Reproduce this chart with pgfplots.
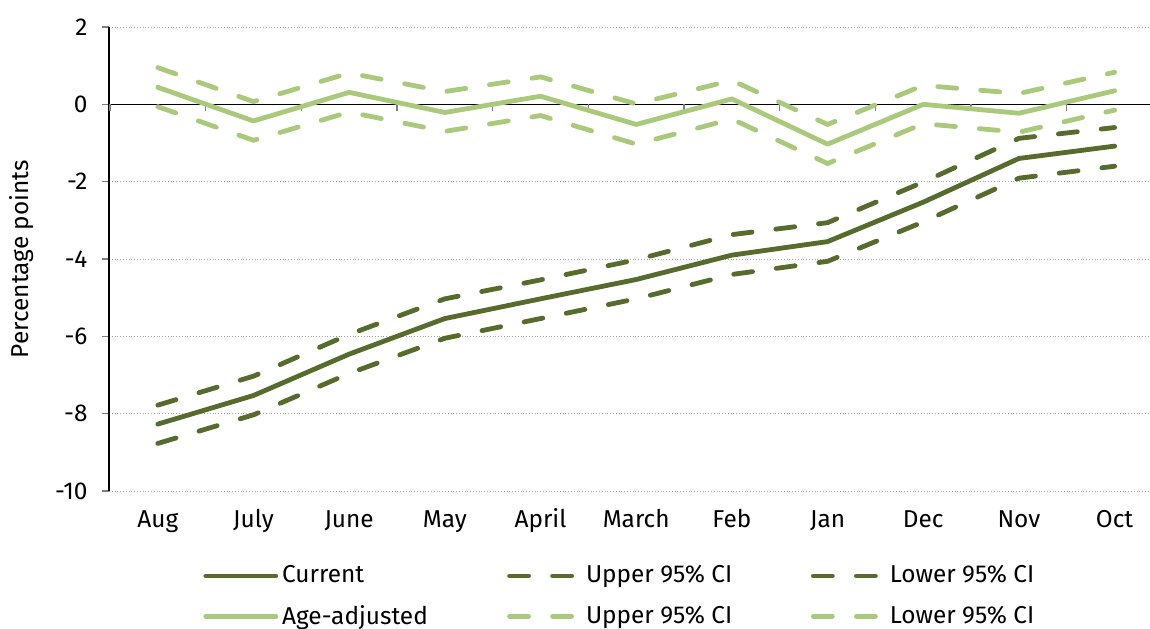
\documentclass[border=0pt]{standalone}
\usepackage{pgfplots}
\pgfplotsset{compat=1.18}
\usepackage{fontspec}
\setmainfont{Fira Sans}
\definecolor{darkg}{RGB}{87,107,44}
\definecolor{lightg}{RGB}{170,201,122}
\pgfplotstableread{
x cur cup clo age aup alo
0 -8.27 -7.78 -8.77 0.44 0.95 -0.06
1 -7.53 -7.03 -8.03 -0.43 0.07 -0.93
2 -6.46 -5.95 -6.96 0.31 0.81 -0.20
3 -5.54 -5.03 -6.05 -0.21 0.33 -0.70
4 -5.03 -4.54 -5.54 0.21 0.71 -0.29
5 -4.53 -4.02 -5.03 -0.52 0.01 -1.03
6 -3.90 -3.37 -4.40 0.14 0.62 -0.38
7 -3.55 -3.06 -4.06 -1.03 -0.52 -1.53
8 -2.53 -2.01 -3.04 0.00 0.49 -0.50
9 -1.40 -0.88 -1.91 -0.23 0.28 -0.72
10 -1.08 -0.60 -1.60 0.35 0.83 -0.15
}\data
\newcommand{\fs}{\fontsize{12.2}{14.6}\selectfont}
\begin{document}
\fs
\begin{tikzpicture}
\begin{axis}[
  name=ax,
  scale only axis,
  width=520.5pt, height=232pt,
  xmin=-0.51, xmax=10.37,
  ymin=-10, ymax=2,
  ytick={-10,-8,...,2},
  xtick={0,...,10},
  xticklabels={Aug,July,June,May,April,March,Feb,Jan,Dec,Nov,Oct},
  axis x line*=bottom,
  axis y line*=left,
  x axis line style={draw=none},
  xtick style={draw=none},
  y axis line style={black, line width=0.6pt},
  ytick style={gray, line width=0.6pt},
  tick align=outside,
  major tick length=3.5pt,
  ymajorgrids,
  grid style={densely dotted, gray!70, line width=0.5pt},
  /pgf/number format/assume math mode=true,
  tick label style={font=\fs},
  yticklabel style={xshift=-3pt},
  xticklabel style={anchor=base, yshift=-14.8pt},
  ylabel={Percentage points},
  ylabel style={font=\fs},
  every axis y label/.style={at={(axis description cs:0,0.5)}, rotate=90, anchor=center, yshift=43.5pt},
  legend columns=3,
  legend cell align=left,
  legend style={at={(0,0)}, anchor=north west, xshift=47pt, yshift=-35pt,
    draw=none, fill=none, inner sep=0pt, row sep=5.3pt,
    font=\fs},
  legend image code/.code={\draw[#1] (0pt,0pt) -- (35pt,0pt);},
  clip=false,
]
\draw[black, line width=0.6pt] (axis cs:-0.51,0) -- (axis cs:10.37,0);
\pgfplotsinvokeforeach{-0.5,0.5,1.5,2.5,3.5,4.5,5.5,6.5,7.5,8.5,9.5}{
  \draw[gray, line width=0.6pt] (axis cs:#1,0) -- (axis cs:#1,-0.17);
}
\addplot[darkg, line width=2.4pt, line cap=round, line join=round] table[x=x,y=cur]{\data};
\addlegendentry{\makebox[110.5pt][l]{Current}}
\addplot[darkg, line width=2.4pt, line cap=round, dash pattern=on 9.5pt off 12pt] table[x=x,y=cup]{\data};
\addlegendentry{\makebox[110.5pt][l]{Upper 95\% CI}}
\addplot[darkg, line width=2.4pt, line cap=round, dash pattern=on 9.5pt off 12pt] table[x=x,y=clo]{\data};
\addlegendentry{\makebox[110.5pt][l]{Lower 95\% CI}}
\addplot[lightg, line width=2.4pt, line cap=round, line join=round] table[x=x,y=age]{\data};
\addlegendentry{\makebox[110.5pt][l]{Age-adjusted}}
\addplot[lightg, line width=2.4pt, line cap=round, dash pattern=on 9.5pt off 12pt] table[x=x,y=aup]{\data};
\addlegendentry{\makebox[110.5pt][l]{Upper 95\% CI}}
\addplot[lightg, line width=2.4pt, line cap=round, dash pattern=on 9.5pt off 12pt] table[x=x,y=alo]{\data};
\addlegendentry{\makebox[110.5pt][l]{Lower 95\% CI}}
\end{axis}
\pgfresetboundingbox
\path[use as bounding box] ([xshift=-54.5pt, yshift=-68.5pt]ax.south west) rectangle ([yshift=13.5pt]ax.north east);
\end{tikzpicture}
\end{document}
